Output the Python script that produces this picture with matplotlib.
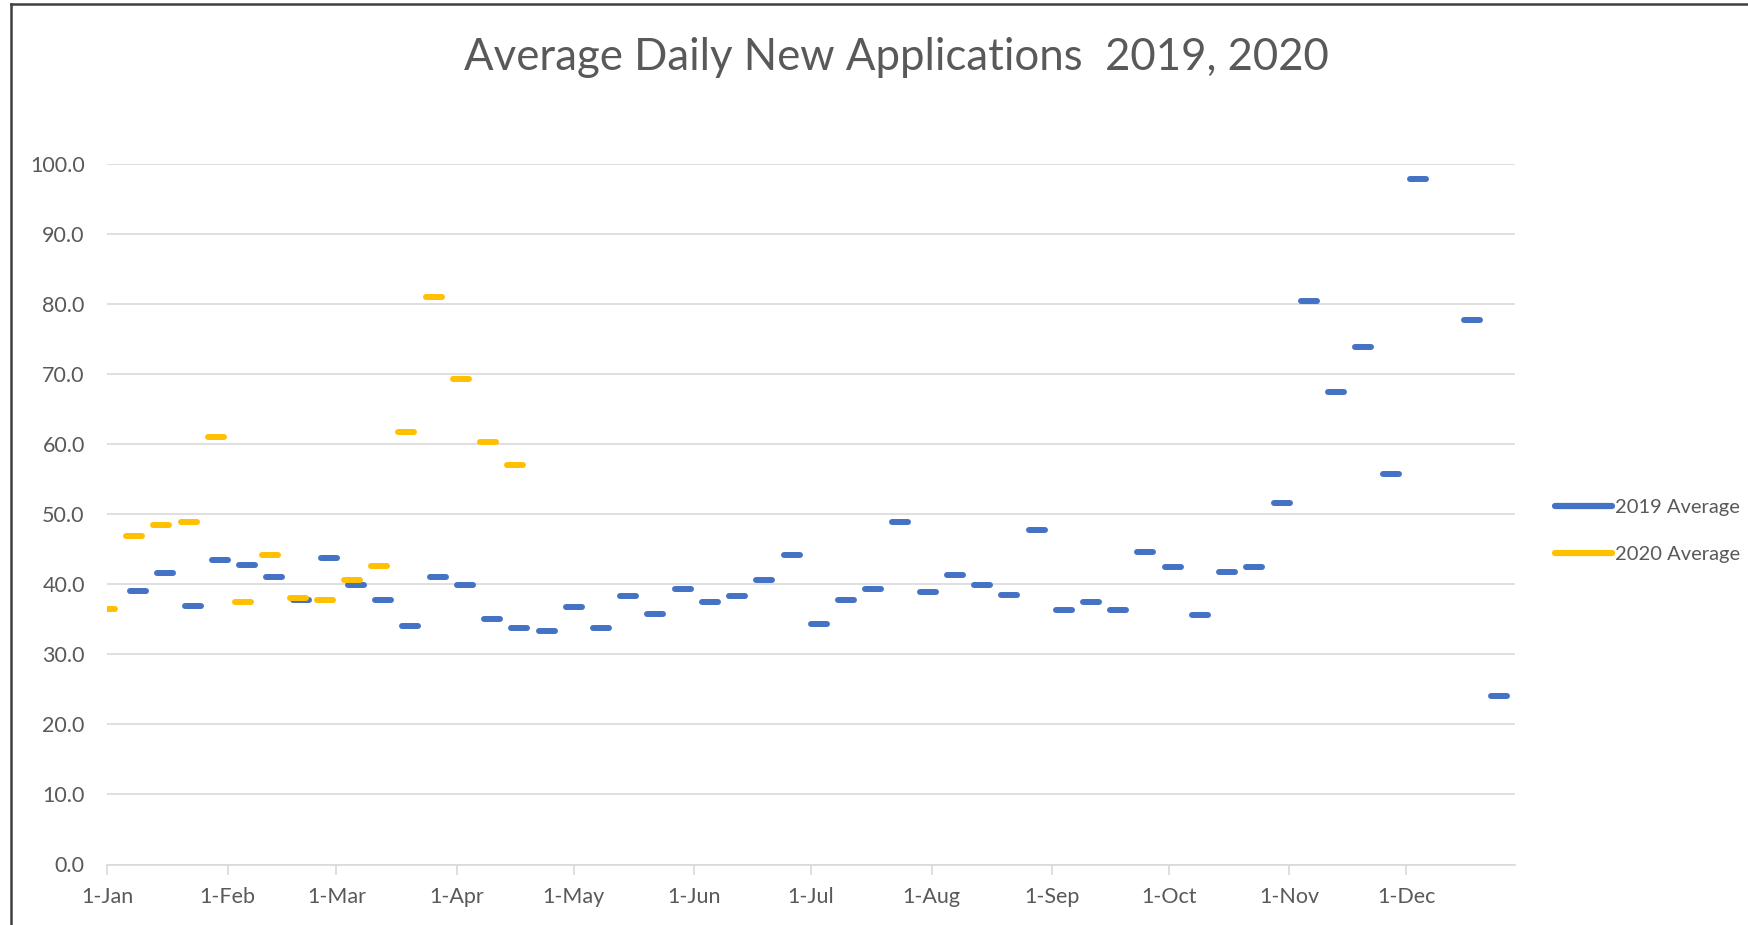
import matplotlib

matplotlib.use("Agg")
import matplotlib.dates as mdates
import matplotlib.pyplot as plt
import numpy as np
import pandas as pd
from matplotlib.lines import Line2D
from matplotlib.markers import MarkerStyle

# --- data (weekly averages) ---
start_2019 = "2019-01-09"
avg_2019 = [
    39.1, 41.6, 36.9, 43.5, 42.8, 41.1, 37.7, 43.8, 39.9, 37.7,
    34.1, 41.1, 39.9, 35.0, 33.8, 33.3, 36.8, 33.8, 38.4, 35.8,
    39.4, 37.5, 38.4, 40.6, 44.2, 34.3, 37.7, 39.4, 48.9, 38.9,
    41.3, 39.9, 38.5, 47.7, 36.3, 37.5, 36.4, 44.6, 42.4, 35.6,
    41.7, 42.4, 51.6, 80.5, 67.4, 73.9, 55.7, 97.9, np.nan, 77.8, 24.0,
]
start_2020 = "2019-01-01"  # plotted on the same day-of-year axis
avg_2020 = [
    36.5, 46.9, 48.4, 48.9, 61.0, 37.5, 44.2, 38.0,
    37.7, 40.6, 42.6, 61.7, 81.0, 69.3, 60.3, 57.1,
]
series_names = ["2019 Average", "2020 Average"]
series_colors = ["#4472C4", "#FFC000"]
title = "Average Daily New Applications  2019, 2020"

dates_2019 = pd.date_range(start_2019, periods=len(avg_2019), freq="7D")
dates_2020 = pd.date_range(start_2020, periods=len(avg_2020), freq="7D")

plt.rcParams["font.family"] = ["Lato", "DejaVu Sans"]
TEXT = "#595959"
GRID = "#D9D9D9"

W, H = 1749, 925
fig = plt.figure(figsize=(W / 100, H / 100), dpi=100)
ax = fig.add_axes([107 / W, 1 - 864.5 / H, (1515 - 107) / W, (864.5 - 164) / H])

dash = MarkerStyle("_", capstyle="round")
for dates, vals, color in [(dates_2019, avg_2019, series_colors[0]),
                           (dates_2020, avg_2020, series_colors[1])]:
    ax.plot(dates, vals, linestyle="none", marker=dash, markersize=12,
            markeredgewidth=4.3, color=color, zorder=3)

ax.set_ylim(0, 100)
ax.set_yticks(np.arange(0, 101, 10))
ax.yaxis.set_major_formatter(matplotlib.ticker.FormatStrFormatter("%.1f"))
ax.set_xlim(pd.Timestamp("2019-01-01"), pd.Timestamp("2019-12-29"))
ax.xaxis.set_major_locator(mdates.MonthLocator())
ax.xaxis.set_major_formatter(mdates.DateFormatter("1-%b"))

ax.grid(axis="y", color=GRID, linewidth=1.2, zorder=0)
for side in ["top", "right", "left"]:
    ax.spines[side].set_visible(False)
ax.spines["bottom"].set_color(GRID)
ax.spines["bottom"].set_linewidth(1.2)
ax.tick_params(axis="y", length=0, pad=16, labelsize=15.5, labelcolor=TEXT)
ax.tick_params(axis="x", length=7, width=1.2, color=GRID, pad=9,
               labelsize=15.5, labelcolor=TEXT)

fig.text(896 / W, 1 - 58 / H, title, ha="center", va="center",
         fontsize=31.5, color=TEXT)

handles = [Line2D([], [], color=c, linewidth=4.5, solid_capstyle="round")
           for c in series_colors]
fig.legend(handles, series_names, loc="center left",
           bbox_to_anchor=(1537 / W, 1 - 531 / H), frameon=False,
           fontsize=14.5, labelcolor=TEXT, handlelength=2.8, handletextpad=0.15,
           labelspacing=1.45)

# chart-area border (left and top edges visible in the crop)
fig.add_artist(Line2D([11 / W, 11 / W], [0, 1 - 4 / H], color="#404040",
                      linewidth=1.8, transform=fig.transFigure))
fig.add_artist(Line2D([11 / W, 1], [1 - 4 / H, 1 - 4 / H], color="#404040",
                      linewidth=1.8, transform=fig.transFigure))

fig.savefig("out.png", dpi=100)
